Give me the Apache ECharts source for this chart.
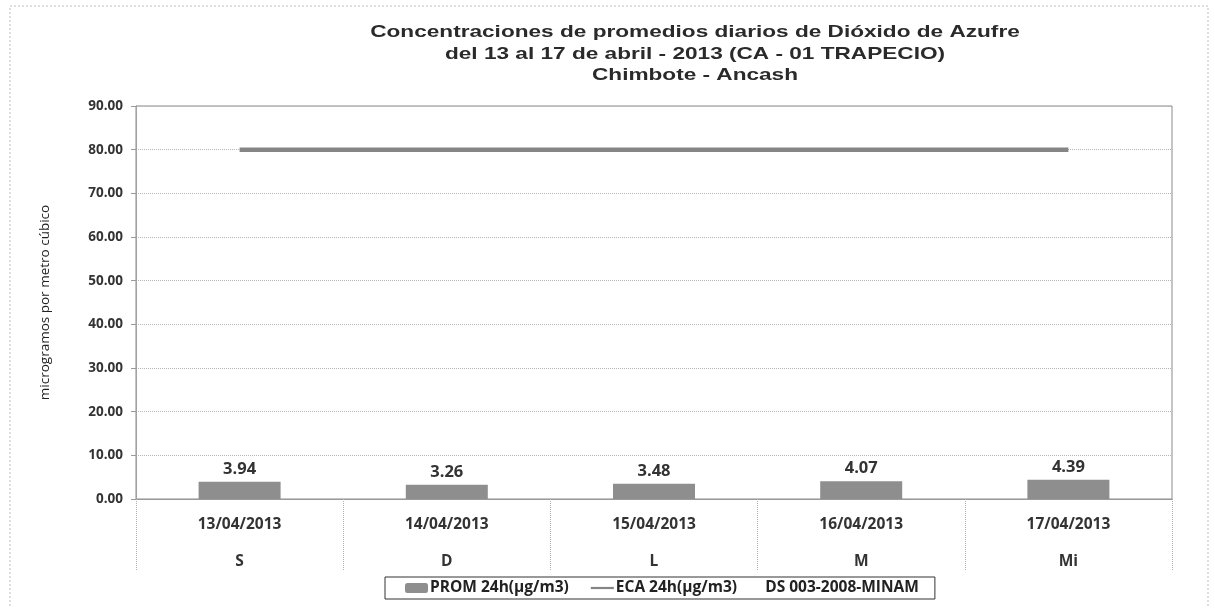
<!DOCTYPE html>
<html><head><meta charset="utf-8">
<script src="https://cdn.jsdelivr.net/npm/echarts@6/dist/echarts.min.js"></script>
<style>html,body{margin:0;padding:0;background:#fff}#c{width:1215px;height:608px}</style>
</head><body><div id="c"></div>
<script>
const dates = ['13/04/2013','14/04/2013','15/04/2013','16/04/2013','17/04/2013'];
const days = ['S','D','L','M','Mi'];
const prom = [3.94, 3.26, 3.48, 4.07, 4.39];
const eca = [80, 80, 80, 80, 80];
const yTicks = {min: 0, max: 90, interval: 10};
const titleText = 'Concentraciones de promedios diarios de Dióxido de Azufre\ndel 13 al 17 de abril - 2013 (CA - 01 TRAPECIO)\nChimbote - Ancash';
const yName = 'microgramos por metro cúbico';
const promName = 'PROM 24h(µg/m3)';
const ecaName = 'ECA 24h(µg/m3)       DS 003-2008-MINAM';

const chart = echarts.init(document.getElementById('c'), null, {renderer: 'canvas'});
chart.setOption({
  animation: false,
  backgroundColor: '#fff',
  graphic: [
    {
      type: 'rect', shape: {x: 10, y: 6, width: 1198, height: 610},
      style: {fill: 'none', stroke: '#bdbdbd', lineWidth: 1, lineDash: [2, 2]}, silent: true
    },
    {
      type: 'text', x: 695, y: 22, scaleX: 1.33, scaleY: 1, silent: true,
      style: {
        text: titleText, align: 'center', verticalAlign: 'top',
        font: 'bold 17px "Liberation Sans"', lineHeight: 21.5, fill: '#2a2a2a'
      }
    }
  ],
  legend: {
    top: 577, left: 385, itemGap: 22, itemWidth: 23, itemHeight: 10,
    borderColor: '#333', borderWidth: 1, padding: [3, 16, 3, 20],
    textStyle: {fontFamily: 'Open Sans', fontWeight: 'bold', fontSize: 15.5, color: '#222', padding: [0, 0, 0, -3]},
    data: [
      {name: promName, icon: 'roundRect'},
      {name: ecaName, icon: 'path://M0,4 L26,4 L26,6.5 L0,6.5 Z'}
    ]
  },
  grid: {left: 136, right: 43, top: 106, bottom: 109, show: true, borderColor: '#8a8a8a', borderWidth: 1},
  xAxis: {
    type: 'category', data: dates,
    axisLine: {show: true, lineStyle: {color: '#9a9a9a'}},
    axisTick: {show: true, length: 71, lineStyle: {color: '#b0b0b0', type: 'dotted'}},
    axisLabel: {
      margin: 7, lineHeight: 37, fontFamily: 'Open Sans', fontWeight: 'bold', fontSize: 15.5, color: '#333',
      formatter: (v, i) => v + '\n' + days[i]
    }
  },
  yAxis: {
    type: 'value', min: yTicks.min, max: yTicks.max, interval: yTicks.interval,
    name: yName, nameLocation: 'middle', nameGap: 84, nameRotate: 90,
    nameTextStyle: {fontFamily: 'Open Sans', fontSize: 13.5, color: '#222'},
    axisLine: {show: true, lineStyle: {color: '#9a9a9a', type: 'dotted'}},
    axisTick: {show: true, length: 5, lineStyle: {color: '#9a9a9a'}},
    splitLine: {show: true, lineStyle: {color: '#b5b5b5', type: 'dotted'}},
    axisLabel: {margin: 13, fontFamily: 'Open Sans', fontWeight: 'bold', fontSize: 13.5, color: '#333',
      formatter: v => v.toFixed(2)}
  },
  series: [
    {
      name: promName, type: 'bar', data: prom, barWidth: 82,
      itemStyle: {color: '#8e8e8e'},
      label: {show: true, position: 'top', distance: 4, fontFamily: 'Open Sans', fontWeight: 'bold', fontSize: 16.5, color: '#333',
        formatter: p => p.value.toFixed(2)}
    },
    {
      name: ecaName, type: 'line', data: eca, symbol: 'none',
      lineStyle: {color: '#858585', width: 4.5},
      itemStyle: {color: '#858585'}
    }
  ]
});
</script></body></html>
